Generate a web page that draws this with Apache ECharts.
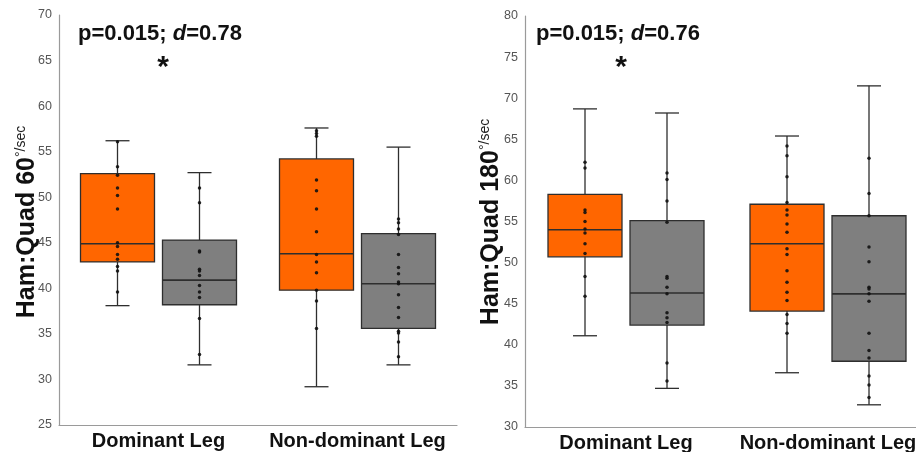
<!DOCTYPE html>
<html>
<head>
<meta charset="utf-8">
<script src="https://cdn.jsdelivr.net/npm/echarts@6/dist/echarts.min.js"></script>
<style>
  html, body { margin: 0; padding: 0; background: #fff; }
  #chart { width: 916px; height: 452px; }
</style>
</head>
<body>
<div id="chart"></div>
<script>
var categories = ['Dominant Leg', 'Non-dominant Leg'];

// box stats per category: [min, q1, median, q3, max]
var box60Orange = [[38.1, 42.9, 44.9, 52.6, 56.2], [29.2, 39.8, 43.8, 54.2, 57.6]];
var box60Gray = [[31.6, 38.2, 40.9, 45.3, 52.7], [31.6, 35.6, 40.5, 46.0, 55.5]];
var box180Orange = [[41.1, 50.7, 54.0, 58.3, 68.7], [36.6, 44.1, 52.3, 57.1, 65.4]];
var box180Gray = [[34.7, 42.4, 46.3, 55.1, 68.2], [32.7, 38.0, 46.2, 55.7, 71.5]];

// individual points per category
var pts60Orange = [
  [56.1, 53.35, 52.4, 51.0, 50.2, 48.7, 45.0, 44.6, 43.7, 43.2, 42.4, 41.9, 39.6],
  [57.3, 57.0, 56.7, 51.9, 50.7, 48.7, 46.2, 43.7, 42.9, 41.7, 39.8, 38.6, 35.6]
];
var pts60Gray = [
  [51.0, 49.4, 44.1, 44.0, 42.1, 41.9, 41.4, 40.3, 39.6, 39.0, 36.7, 32.75],
  [47.6, 47.2, 46.5, 45.9, 43.7, 42.3, 41.6, 40.7, 40.5, 39.3, 37.9, 36.8, 35.3, 35.1, 34.1, 32.5]
];
var pts180Orange = [
  [62.2, 61.5, 56.4, 56.1, 55.0, 54.1, 53.6, 52.3, 51.1, 48.3, 45.9],
  [64.2, 63.0, 60.45, 57.3, 56.4, 55.8, 54.7, 53.7, 51.7, 51.0, 49.0, 47.6, 46.4, 45.4, 43.7, 42.6, 41.4]
];
var pts180Gray = [
  [60.9, 60.1, 57.5, 54.9, 48.3, 48.1, 47.0, 46.2, 43.9, 43.3, 42.7, 37.8, 35.6],
  [62.7, 58.4, 55.7, 51.9, 50.1, 47.0, 46.8, 46.2, 45.3, 41.4, 39.3, 38.4, 36.2, 35.1, 33.6]
];

var yTicks60 = { min: 25, max: 70, interval: 5 };
var yTicks180 = { min: 30, max: 80, interval: 5 };

var ORANGE = '#FF6600';
var GRAY = '#7F7F7F';
var EDGE = '#2e2e2e';
var SIDE = 41;

function boxRows(stats) {
  return stats.map(function (s, i) { return [i].concat(s); });
}
function pointRows(pts) {
  var out = [];
  pts.forEach(function (list, i) {
    list.forEach(function (v) { out.push([i, v]); });
  });
  return out;
}

function boxRender(side, fill) {
  return function (params, api) {
    var cat = api.value(0);
    var cx = api.coord([cat, api.value(1)])[0] + side * SIDE;
    var py = function (v) { return api.coord([cat, v])[1]; };
    var yMin = py(api.value(1)), yQ1 = py(api.value(2)), yMed = py(api.value(3));
    var yQ3 = py(api.value(4)), yMax = py(api.value(5));
    var hw = 37, cw = 12;
    var ls = { stroke: EDGE, lineWidth: 1.3 };
    return {
      type: 'group',
      children: [
        { type: 'line', shape: { x1: cx, y1: yMax, x2: cx, y2: yMin }, style: ls },
        { type: 'line', shape: { x1: cx - cw, y1: yMax, x2: cx + cw, y2: yMax }, style: ls },
        { type: 'line', shape: { x1: cx - cw, y1: yMin, x2: cx + cw, y2: yMin }, style: ls },
        { type: 'rect', shape: { x: cx - hw, y: yQ3, width: hw * 2, height: yQ1 - yQ3 },
          style: { fill: fill, stroke: EDGE, lineWidth: 1.3 } },
        { type: 'line', shape: { x1: cx - hw, y1: yMed, x2: cx + hw, y2: yMed }, style: { stroke: EDGE, lineWidth: 1.6 } }
      ]
    };
  };
}

function boxSeries(stats, side, fill, idx) {
  return {
    type: 'custom', xAxisIndex: idx, yAxisIndex: idx,
    renderItem: boxRender(side, fill),
    encode: { x: 0, y: [1, 2, 3, 4, 5] },
    data: boxRows(stats), z: 2, silent: true
  };
}
function dotSeries(pts, side, idx) {
  return {
    type: 'scatter', xAxisIndex: idx, yAxisIndex: idx,
    symbol: 'circle', symbolSize: 3.5, symbolOffset: [side * SIDE, 0],
    itemStyle: { color: '#111', opacity: 0.9 },
    data: pointRows(pts), z: 3, silent: true
  };
}

function xAxisCfg(idx) {
  return {
    type: 'category', gridIndex: idx, data: categories, boundaryGap: true,
    axisLine: { lineStyle: { color: '#9a9a9a', width: 1.2 } },
    axisTick: { show: false },
    axisLabel: { interval: 0, hideOverlap: false, margin: 6, fontSize: 20, fontWeight: 'bold', color: '#111',
      fontFamily: 'Liberation Sans, Arial, sans-serif' }
  };
}
function yAxisCfg(idx, t) {
  return {
    type: 'value', gridIndex: idx, min: t.min, max: t.max, interval: t.interval,
    axisLine: { show: true, lineStyle: { color: '#9a9a9a', width: 1.2 } },
    axisTick: { show: false },
    splitLine: { show: false },
    axisLabel: { margin: 7, fontSize: 12.5, color: '#555', fontFamily: 'Liberation Sans, Arial, sans-serif' }
  };
}

function yTitle(x, y, main) {
  return {
    type: 'text', x: x, y: y, rotation: Math.PI / 2,
    style: {
      text: '{b|' + main + '}{s|°/sec}',
      align: 'center', verticalAlign: 'middle',
      rich: {
        b: { fontSize: 25, fontWeight: 'bold', fill: '#111', fontFamily: 'Liberation Sans, Arial, sans-serif' },
        s: { fontSize: 14, fill: '#222', verticalAlign: 'top', fontFamily: 'Liberation Sans, Arial, sans-serif' }
      }
    }
  };
}
function pText(x, y, p, d) {
  return {
    type: 'text', x: x, y: y,
    style: {
      text: '{n|p=' + p + '; }{i|d}{n|=' + d + '}',
      verticalAlign: 'middle',
      rich: {
        n: { fontSize: 22, fontWeight: 'bold', fill: '#111', fontFamily: 'Liberation Sans, Arial, sans-serif' },
        i: { fontSize: 22, fontWeight: 'bold', fontStyle: 'italic', fill: '#111', fontFamily: 'Liberation Sans, Arial, sans-serif' }
      }
    }
  };
}
function star(x, y) {
  return {
    type: 'text', x: x, y: y,
    style: { text: '*', align: 'center', verticalAlign: 'middle', fontSize: 30, fontWeight: 'bold', fill: '#111',
      fontFamily: 'Liberation Sans, Arial, sans-serif' }
  };
}

var chart = echarts.init(document.getElementById('chart'));
chart.setOption({
  animation: false,
  backgroundColor: '#fff',
  grid: [
    { left: 59, top: 15, width: 398, height: 410, outerBoundsMode: 'none' },
    { left: 525, top: 16, width: 404, height: 411, outerBoundsMode: 'none' }
  ],
  xAxis: [xAxisCfg(0), xAxisCfg(1)],
  yAxis: [yAxisCfg(0, yTicks60), yAxisCfg(1, yTicks180)],
  graphic: [
    yTitle(27, 222, 'Ham:Quad 60'),
    yTitle(491, 222, 'Ham:Quad 180'),
    pText(78, 34, '0.015', '0.78'),
    pText(536, 34, '0.015', '0.76'),
    star(163, 68),
    star(621, 68)
  ],
  series: [
    boxSeries(box60Orange, -1, ORANGE, 0),
    boxSeries(box60Gray, 1, GRAY, 0),
    dotSeries(pts60Orange, -1, 0),
    dotSeries(pts60Gray, 1, 0),
    boxSeries(box180Orange, -1, ORANGE, 1),
    boxSeries(box180Gray, 1, GRAY, 1),
    dotSeries(pts180Orange, -1, 1),
    dotSeries(pts180Gray, 1, 1)
  ]
});
</script>
</body>
</html>
